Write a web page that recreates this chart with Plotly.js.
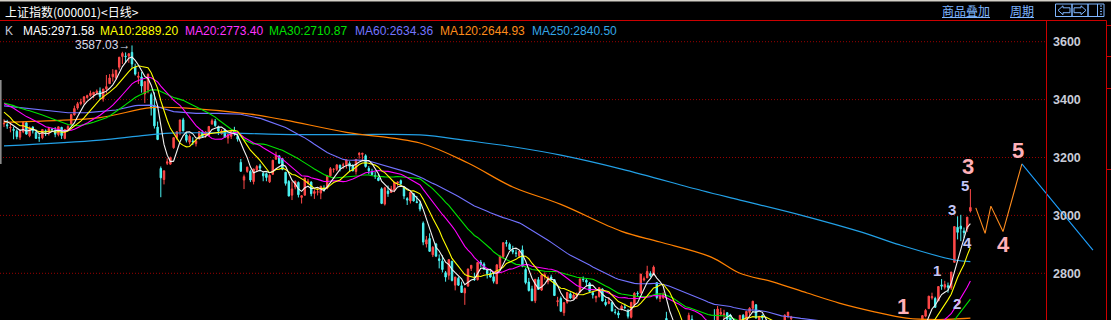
<!DOCTYPE html>
<html><head><meta charset="utf-8">
<script src="https://cdn.plot.ly/plotly-3.0.1.min.js"></script>
<style>html,body{margin:0;padding:0;background:#000;overflow:hidden}#chart{width:1111px;height:320px}</style>
</head><body><div id="chart"></div>
<script>
// ---------- DATA (SSE Composite 000001, daily, 2017-12-01 .. 2019-03-04) ----------
// closes before the window (2017-09-04 .. 2017-11-30), only used for moving averages
const priorCloses = [
3379.58,3384.32,3385.39,3365.50,3365.24,3376.42,3384.15,3384.28,3371.43,3353.62,3362.86,3356.84,3366.00,3357.81,3352.53,3341.55,3343.58,3345.27,3339.64,3348.94,
3374.38,3382.99,3388.28,3386.10,3390.52,3378.47,3372.04,3381.79,3370.17,3378.65,3380.70,3388.25,3396.90,3407.57,3416.81,3390.34,3393.34,
3395.91,3383.31,3371.74,3388.17,3413.57,3415.46,3427.79,3432.67,3447.84,3429.55,3402.52,3399.25,3382.91,3392.40,3410.50,3430.46,3351.92,3353.82,3322.23,3333.66,3337.86,3317.19];

const opens = [
3316,3313,3303,3297,3291,3270,3289,3320,3275,3305,3286,3268,3268,3292,3285,3298,3293,3279,3304,3266,3295,
3314,3347,3371,3386,3392,3407,3414,3416,3423,3429,3403,3437,3455,3479,3475,3512,3549,3550,3550,3563,3512,3477,
3478,3419,3434,3417,3380,3305,3162,3124,3180,3177,3234,3269,3291,3330,3278,
3253,3257,3248,3266,3288,3276,3275,3316,3325,3306,3282,3295,3267,3273,3293,3273,3183,3122,3152,3152,3117,3157,
3171,3145,3144,3116,3142,3194,3206,3196,3149,3117,3070,3098,3114,3062,3070,3112,3115,3076,
3081,3077,3092,3094,3137,3159,3159,3173,3174,3175,3180,3172,3152,3210,3211,3206,3162,3151,3138,3129,3092,3039,
3084,3079,3087,3112,3120,3096,3058,3050,3075,3047,3040,2973,2901,2920,2864,2901,2850,2842,2802,2793,
2842,2759,2783,2757,2732,2756,2817,2780,2778,2838,2832,2810,2799,2788,2764,2818,2858,2906,2900,2880,2870,2860,
2881,2813,2770,2746,2705,2778,2742,2789,2771,2787,2778,2702,2713,2664,2700,2729,2713,2722,2735,2780,2776,2766,2733,
2715,2720,2746,2700,2696,2699,2666,2663,2677,2684,2671,2648,2692,2731,2732,2777,2784,2799,2795,
2768,2713,2716,2644,2579,2602,2575,2550,2554,2481,2578,2641,2589,2571,2619,2597,2533,2567,
2617,2635,2659,2656,2664,2656,2626,2602,2624,2655,2634,2665,2679,2691,2627,2654,2637,2585,2583,2575,2608,2566,
2638,2652,2643,2625,2612,2584,2589,2605,2609,2627,2588,2590,2583,2545,2531,2513,2498,2507,2513,2481,
2497,2461,2446,2529,2532,2535,2540,2544,2548,2536,2567,2569,2566,2592,2606,2575,2581,2595,2608,2591,2590,2580,
2595,2617,2652,2678,2715,2713,2705,2760,2752,2757,2750,2838,2959,2963,2946,
2954,3015];

const highs = [
3332,3330,3320,3306,3297,3297,3324,3324,3307,3308,3297,3285,3298,3297,3306,3301,3305,3307,3306,3299,3312,
3349,3379,3392,3403,3412,3417,3431,3426,3435,3442,3437,3485,3488,3505,3503,3547,3565,3563,3561,3587.03,3524,3496,
3495,3463,3490,3424,3425,3324,3169,3154,3197,3203,3270,3290,3331,3337,3287,
3280,3270,3263,3290,3294,3291,3309,3334,3333,3310,3298,3300,3281,3290,3306,3283,3195,3141,3168,3158,3160,3174,
3178,3151,3148,3142,3192,3220,3207,3197,3150,3122,3117,3121,3117,3070,3130,3126,3118,3090,
3096,3101,3104,3137,3167,3163,3177,3176,3182,3192,3187,3177,3195,3219,3216,3211,3170,3161,3151,3143,3097,3099,
3103,3102,3114,3117,3124,3100,3063,3080,3077,3067,3049,2979,2929,2938,2894,2905,2865,2862,2808,2847,
2842,2788,2789,2771,2751,2816,2828,2802,2838,2846,2838,2813,2810,2800,2831,2861,2907,2915,2906,2895,2882,2878,
2896,2819,2784,2757,2780,2787,2796,2803,2792,2795,2780,2719,2720,2701,2736,2734,2734,2734,2781,2789,2780,2770,2736,
2722,2751,2748,2712,2718,2701,2677,2671,2692,2695,2677,2700,2735,2738,2797,2789,2826,2807,2827,
2769,2731,2734,2667,2615,2611,2583,2580,2562,2551,2664,2655,2628,2612,2629,2613,2573,2606,
2676,2687,2680,2674,2666,2660,2633,2631,2655,2659,2670,2683,2705,2694,2652,2658,2640,2597,2590,2602,2616,2592,
2659,2666,2653,2627,2621,2596,2601,2614,2636,2628,2601,2598,2589,2563,2541,2531,2508,2513,2531,2505,
2500,2488,2516,2536,2534,2575,2551,2555,2550,2573,2576,2575,2598,2618,2609,2589,2595,2617,2630,2597,2597,2594,
2627,2654,2677,2722,2733,2719,2755,2780,2774,2768,2805,2962,2997,3002,2958,
2995,3091];

const lows = [
3305,3299,3287,3263,3263,3261,3284,3279,3270,3283,3264,3254,3263,3274,3276,3288,3270,3273,3264,3263,3295,
3314,3345,3365,3380,3384,3403,3410,3405,3418,3402,3393,3421,3455,3462,3468,3503,3523,3528,3527,3510,3483,3454,
3424,3388,3422,3345,3300,3260,3062.74,3107,3174,3175,3230,3262,3277,3290,3252,
3245,3243,3238,3261,3268,3268,3275,3313,3306,3278,3279,3268,3248,3264,3275,3255,3150,3091,3147,3115,3107,3151,
3151,3118,3118,3112,3140,3193,3178,3156,3103,3066,3053,3090,3062,3041,3068,3108,3066,3057,
3069,3056,3082,3090,3133,3148,3153,3152,3160,3162,3150,3152,3141,3196,3192,3165,3142,3137,3126,3118,3039,3034,
3064,3078,3080,3102,3105,3056,3036,3041,3048,3044,3014,2897,2889,2875,2856,2856,2817,2803,2771,2778,
2772,2741,2756,2733,2691,2753,2808,2774,2775,2822,2812,2782,2785,2765,2764,2812,2851,2892,2881,2866,2856,2853,
2821,2762,2737,2704,2697,2743,2739,2778,2762,2775,2723,2686,2666,2653,2695,2712,2708,2711,2733,2770,2755,2737,2713,
2700,2716,2703,2686,2693,2669,2658,2645,2672,2676,2644,2644,2684,2719,2731,2772,2784,2786,2793,
2710,2701,2711,2583,2562,2568,2536,2544,2486,2449,2570,2593,2589,2556,2586,2535,2525,2563,
2606,2634,2652,2640,2637,2635,2593,2599,2616,2632,2630,2653,2673,2643,2616,2637,2575,2573,2566,2569,2565,2560,
2632,2645,2638,2603,2601,2576,2582,2597,2607,2593,2571,2568,2546,2533,2505,2502,2463,2494,2482,2477,
2456,2455,2440,2516,2518,2534,2528,2537,2532,2533,2560,2549,2565,2592,2578,2570,2578,2593,2595,2570,2575,2566,
2591,2607,2648,2678,2709,2681,2704,2743,2744,2733,2743,2838,2917,2911,2921,
2943,3010];

const closes = [
3317.62,3309.62,3303.68,3293.96,3272.05,3289.99,3322.20,3280.81,3303.04,3292.44,3266.14,3267.92,3296.54,3287.61,3300.06,3297.06,3280.46,3306.12,3275.78,3296.38,3307.17,
3348.33,3369.11,3385.71,3391.75,3409.48,3413.90,3421.83,3425.34,3428.94,3410.49,3436.59,3444.67,3474.75,3487.86,3501.36,3546.50,3559.47,3548.31,3558.13,3523.00,3488.01,3480.83,
3446.98,3462.08,3487.50,3370.65,3309.26,3262.05,3129.85,3154.13,3184.96,3199.16,3268.56,3289.02,3329.57,3292.07,3259.41,
3273.75,3254.53,3256.93,3289.64,3271.67,3288.41,3307.17,3326.70,3310.24,3291.38,3291.11,3269.88,3279.25,3290.64,3280.95,3263.48,3152.76,3133.72,3166.65,3122.29,3160.53,3168.90,
3163.18,3136.63,3131.11,3138.29,3190.32,3208.08,3180.16,3159.05,3110.65,3066.80,3091.40,3117.38,3071.54,3068.01,3128.93,3117.97,3075.03,3082.23,
3081.18,3100.86,3091.03,3136.64,3161.50,3159.15,3174.41,3163.26,3174.03,3192.12,3169.57,3154.28,3193.30,3213.84,3214.35,3168.96,3154.65,3141.30,3135.08,3120.46,3041.44,3095.47,
3075.14,3091.19,3114.21,3115.18,3109.50,3067.15,3052.78,3079.80,3049.80,3044.16,3021.90,2907.82,2915.73,2875.81,2889.76,2859.34,2844.51,2813.18,2786.90,2847.42,
2775.56,2786.89,2759.13,2733.88,2747.23,2815.11,2827.63,2777.77,2837.66,2831.18,2814.04,2798.13,2787.26,2772.55,2829.27,2859.54,2905.56,2903.65,2882.23,2873.59,2869.05,2876.40,
2824.53,2768.02,2740.44,2705.16,2779.37,2744.07,2794.38,2795.31,2785.87,2780.96,2723.26,2705.19,2668.97,2698.47,2733.64,2714.61,2724.62,2729.43,2780.90,2777.98,2769.30,2737.74,2725.25,
2720.73,2750.58,2704.34,2691.59,2702.30,2669.48,2664.80,2656.11,2686.58,2681.64,2651.79,2699.95,2730.85,2729.24,2797.49,2781.14,2806.81,2791.77,2821.35,
2716.51,2721.01,2725.84,2583.46,2606.91,2568.10,2546.33,2561.61,2486.42,2550.47,2654.88,2594.83,2603.30,2603.80,2598.85,2542.10,2568.05,2602.78,
2606.24,2676.48,2665.43,2659.36,2641.34,2635.63,2598.87,2630.52,2654.88,2632.24,2668.17,2679.11,2703.51,2645.43,2651.51,2645.85,2579.48,2575.81,2574.68,2601.74,2567.44,2588.19,
2654.80,2665.96,2649.81,2605.18,2605.89,2584.58,2594.09,2602.15,2634.05,2593.74,2597.97,2576.65,2549.56,2536.27,2516.25,2527.01,2504.82,2498.29,2483.09,2493.90,
2465.29,2464.36,2514.87,2533.09,2526.46,2544.34,2535.10,2553.83,2535.77,2570.34,2570.42,2559.64,2596.01,2610.51,2579.70,2581.00,2591.69,2601.72,2596.98,2594.25,2575.58,2584.57,
2618.23,2653.90,2671.89,2721.07,2719.70,2682.39,2754.36,2755.65,2761.22,2751.80,2804.23,2961.28,2941.52,2953.82,2940.95,
2994.01,3027.58];

// long averages (bar index -> value)
const ma120Idx = [0,9,30,46,58,77,88,107,130,145,159,174,193,205,221,230,240,251,261,272,282,292,302];
const ma120Val = [3322,3325,3338,3372,3370,3350,3329,3287,3250,3181,3098,3038,2945,2908,2856,2800,2771,2732,2697,2667,2645,2640,2644.93];
const ma250Idx = [0,30,42,52,68,86,108,130,145,159,174,193,218,230,249,268,280,297,302];
const ma250Val = [3240,3260,3274,3284,3285,3280,3279,3278,3258,3237,3208,3160,3086,3053,3001,2942,2898,2846,2840.50];

// hand-drawn wave projection
const zigIdx = [303.7,306.6,308.4,312.2,318.1];
const zigVal = [3026,2938,3032,2944,3178];
const dropIdx = [318.1,340.3];
const dropVal = [3178,2880];

// legend / labels
const maNames = ['MA5','MA10','MA20','MA30','MA60','MA120','MA250'];
const maLast  = ['2971.58','2889.20','2773.40','2710.87','2634.36','2644.93','2840.50'];
const tickVals = [2800,3000,3200,3400,3600];
const peakLabel = '3587.03';
const waveText = ['1','3','5','4','5','3','4','1','2'];
const waveIdx  = [280.9,301.25,316.9,312.2,300.3,296.25,301.25,291.6,297.8];
const waveVal  = [2684,3167.2,3225.9,2901.2,3105,3018.7,2904.7,2811.4,2697.4];
const waveBig  = [1,1,1,1,0,0,0,0,0];

// ---------- CHECKS ----------
[opens,highs,lows].forEach(a=>{ if(a.length!==closes.length) throw new Error('length mismatch '+a.length+' vs '+closes.length); });

// ---------- STYLE ----------
const W=1111,H=320;
const PX=x=>x/W, PY=y=>1-y/H;
const UP='#ff4848', DN='#4cf4f4';
const maColors=['#f2f2f2','#ffff00','#ff00ff','#00e400','#7272ff','#ff8000','#22a0e6'];
const maText  =['#ffffff','#ffff00','#ff33ff','#00e000','#7474ff','#ff8c1a','#33a6e6'];
const RED='#cc0000';

const idx = closes.map((_,i)=>i);
const allC = priorCloses.concat(closes), off = priorCloses.length;
function ma(n){
  return closes.map((_,i)=>{const j=i+off; if(j+1<n) return null; let s=0; for(let k=j-n+1;k<=j;k++) s+=allC[k]; return s/n;});
}

const traces=[];
traces.push({type:'candlestick',x:idx,open:opens,high:highs,low:lows,close:closes,
  increasing:{line:{color:UP,width:1},fillcolor:UP},
  decreasing:{line:{color:DN,width:1},fillcolor:DN},
  whiskerwidth:0,hoverinfo:'skip',showlegend:false});
traces.push({type:'scatter',mode:'lines',x:ma250Idx,y:ma250Val,line:{color:maColors[6],width:1.2,shape:'spline'},hoverinfo:'skip'});
traces.push({type:'scatter',mode:'lines',x:ma120Idx,y:ma120Val,line:{color:maColors[5],width:1.2,shape:'spline'},hoverinfo:'skip'});
[[60,4],[30,3],[20,2],[10,1],[5,0]].forEach(([n,c])=>{
  traces.push({type:'scatter',mode:'lines',x:idx,y:ma(n),line:{color:maColors[c],width:1.1},hoverinfo:'skip',connectgaps:false});
});
traces.push({type:'scatter',mode:'lines',x:zigIdx,y:zigVal,line:{color:'#ff8c1e',width:1.1},hoverinfo:'skip'});
traces.push({type:'scatter',mode:'lines',x:dropIdx,y:dropVal,line:{color:'#1ea0ff',width:1.1},hoverinfo:'skip'});

// ---------- SHAPES ----------
const shapes=[];
function pline(x0,y0,x1,y1,color,w,extra){shapes.push(Object.assign({type:'line',xref:'paper',yref:'paper',x0:PX(x0),y0:PY(y0),x1:PX(x1),y1:PY(y1),line:{color:color,width:w||1}},extra||{}));}
function ppath(pts,color,closeIt){
  const d=pts.map((p,k)=>(k?'L':'M')+PX(p[0]).toFixed(5)+','+PY(p[1]).toFixed(5)).join(' ')+(closeIt?' Z':'');
  shapes.push({type:'path',xref:'paper',yref:'paper',path:d,line:{color:color,width:1}});
}
// gridlines
tickVals.forEach(v=>shapes.push({type:'line',xref:'paper',yref:'y',x0:0,x1:PX(1046),y0:v,y1:v,layer:'below',line:{color:'#9a0000',width:1,dash:'1px,2px'}}));
// top grey strip
shapes.push({type:'rect',xref:'paper',yref:'paper',x0:0,x1:1,y0:PY(1.5),y1:1,fillcolor:'#d4d0c8',line:{width:0}});
// left grey strip
shapes.push({type:'rect',xref:'paper',yref:'paper',x0:0,x1:PX(1.6),y0:PY(164),y1:PY(80),fillcolor:'#8c8c8c',line:{width:0}});
// red frame
pline(0,20.5,1106.5,20.5,RED);
pline(1046.5,20.5,1046.5,320,RED);
pline(1106.5,20.5,1106.5,320,RED);
[25.5,56.5,88.5,169.5].forEach(y=>pline(1106.5,y,1111,y,RED));
// underlines of the links
const LB='#7fb6ff';
pline(942,17.5,990,17.5,LB);
pline(1010,17.5,1034,17.5,LB);
// icon buttons
[[1055.5,1072],[1072,1088],[1088,1104]].forEach(([a,b])=>{
  shapes.push({type:'rect',xref:'paper',yref:'paper',x0:PX(a),x1:PX(b),y0:PY(16.5),y1:PY(4),line:{color:LB,width:1}});
});
ppath([[1058,10.3],[1063,5.8],[1063,7.8],[1070,7.8],[1070,12.7],[1063,12.7],[1063,14.7]],LB,true);
ppath([[1086,10.3],[1081,5.8],[1081,7.8],[1074,7.8],[1074,12.7],[1081,12.7],[1081,14.7]],LB,true);
pline(1097.5,4,1097.5,16.5,LB);
[6,8.7,11.4,14.1].forEach(y=>pline(1100,y,1102,y,LB));

// ---------- ANNOTATIONS ----------
const ann=[];
function ptext(text,x,y,color,size,family,extra){
  ann.push(Object.assign({xref:'paper',yref:'paper',x:PX(x),y:PY(y),xanchor:'left',yanchor:'middle',showarrow:false,text:text,
    font:{family:family||'Liberation Sans, Arial, sans-serif',size:size||12,color:color},borderpad:0},extra||{}));
}
ptext('上证指数(000001)&lt;日线&gt;',4,11,'#ffffff',12,'Noto Sans CJK SC, sans-serif');
ptext('商品叠加',941,10.5,LB,12,'Noto Sans CJK SC, sans-serif');
ptext('周期',1009,10.5,LB,12,'Noto Sans CJK SC, sans-serif');
ptext('K',4,30.5,'#c0c8d8',12);
const legX=[22,99,184,268,354,439,531];
maNames.forEach((n,k)=>ptext(n+':'+maLast[k],legX[k],30.5,maText[k],12));
// peak label
ann.push({xref:'x',yref:'y',x:40,y:3587.03,xanchor:'right',yanchor:'middle',xshift:-1,yshift:0,showarrow:false,
  text:peakLabel+'→',font:{family:'Liberation Sans, Arial, sans-serif',size:12,color:'#d4dcec'},borderpad:0});
// wave labels
waveText.forEach((t,k)=>{
  ann.push({xref:'x',yref:'y',x:waveIdx[k],y:waveVal[k],xanchor:'center',yanchor:'middle',showarrow:false,text:t,borderpad:0,
    font:{family:'Liberation Sans, Arial, sans-serif',size:waveBig[k]?22:15,weight:'bold',color:waveBig[k]?'#ffb0b8':'#c4c6f6'}});
});

const layout={
  width:W,height:H,margin:{l:0,r:0,t:0,b:0},
  paper_bgcolor:'#000',plot_bgcolor:'#000',showlegend:false,
  boxgap:0.55,boxgroupgap:0,
  xaxis:{type:'linear',range:[-1.25,345.94],visible:false,fixedrange:true,rangeslider:{visible:false}},
  yaxis:{range:[2638.7,3744.0],anchor:'free',position:PX(1046.5),side:'right',showgrid:false,zeroline:false,showline:false,
    ticks:'outside',ticklen:3,tickcolor:'rgba(0,0,0,0)',tickvals:tickVals,automargin:false,fixedrange:true,
    tickfont:{family:'Liberation Sans, Arial, sans-serif',size:12.5,color:'#c8ccd8',weight:'bold'}},
  shapes:shapes,annotations:ann
};
Plotly.newPlot('chart',traces,layout,{staticPlot:true,displayModeBar:false});
</script></body></html>
